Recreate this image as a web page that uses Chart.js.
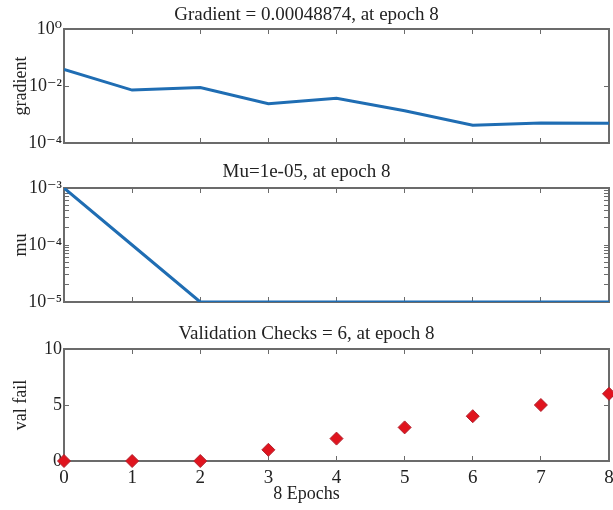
<!DOCTYPE html>
<html>
<head>
<meta charset="utf-8">
<title>Training state</title>
<script src="https://cdn.jsdelivr.net/npm/chart.js@4.4.1/dist/chart.umd.min.js"></script>
<style>
  html, body { margin: 0; padding: 0; background: #ffffff; }
  #wrap { position: relative; width: 613px; height: 510px; overflow: hidden; }
  #wrap canvas { position: absolute; left: 0; }
</style>
</head>
<body>
<div id="wrap">
  <canvas id="gradChart" width="613" height="160" style="top:0px"></canvas>
  <canvas id="muChart" width="613" height="162" style="top:160px"></canvas>
  <canvas id="valChart" width="613" height="188" style="top:322px"></canvas>
</div>
<script>
// epochs on the x axis
const epochs = [0, 1, 2, 3, 4, 5, 6, 7, 8];

// series
const gradientValues = [0.038, 0.0072, 0.0088, 0.0024, 0.0037, 0.00136, 0.00042, 0.0005, 0.00048874];
const muValues = [1e-3, 1e-4, 1e-5, 1e-5, 1e-5, 1e-5, 1e-5, 1e-5, 1e-5];
const valFailValues = [0, 0, 0, 1, 2, 3, 4, 5, 6];

// tick labels / tick positions
const gradTicks = [1e-4, 1e-2, 1];
const muTicks = [1e-5, 1e-4, 1e-3];
const valTicks = [0, 5, 10];

const titles = [
    'Gradient = 0.00048874, at epoch 8',
    'Mu=1e-05, at epoch 8',
    'Validation Checks = 6, at epoch 8'
];
const xTitle = '8 Epochs';

const SERIF = '"Liberation Serif", "DejaVu Serif", "Times New Roman", serif';
const TEXT = '#222222';
const AXIS_GRAY = '#6b6b6b';
const LINE_BLUE = '#1f6db3';
const PLOT_LEFT = 64;
const PLOT_RIGHT_PAD = 4;

const SUP = { '0': '\u2070', '1': '\u00b9', '2': '\u00b2', '3': '\u00b3', '4': '\u2074',
              '5': '\u2075', '6': '\u2076', '7': '\u2077', '8': '\u2078', '9': '\u2079', '-': '\u207b' };

function powLabel(v) {
    const e = String(Math.round(Math.log10(v)));
    return '10' + e.split('').map(c => SUP[c]).join('');
}

// minor tick positions of a log axis (1..9 x 10^k)
function logMinorTicks(lo, hi) {
    const out = [];
    for (let k = Math.round(Math.log10(lo)); k < Math.round(Math.log10(hi)); k++) {
        for (let m = 1; m < 10; m++) out.push({ value: m * Math.pow(10, k) });
    }
    out.push({ value: hi });
    return out;
}

function noPad(s) {
    s.paddingLeft = 0; s.paddingRight = 0; s.paddingTop = 0; s.paddingBottom = 0;
}

function xScales(showLabels, bottomHeight) {
    const base = {
        type: 'linear',
        min: 0,
        max: 8,
        grid: { drawOnChartArea: false, drawTicks: true, tickLength: -5, color: AXIS_GRAY, lineWidth: 1 },
        border: { display: true, color: AXIS_GRAY, width: 2 }
    };
    return {
        x: Object.assign({}, base, {
            position: 'bottom',
            ticks: {
                display: showLabels, stepSize: 1, autoSkip: false, maxRotation: 0, padding: 11,
                color: TEXT, font: { family: SERIF, size: 19 }
            },
            afterFit: s => { s.height = bottomHeight; noPad(s); }
        }),
        x2: Object.assign({}, base, {
            position: 'top',
            ticks: { display: false, stepSize: 1, autoSkip: false },
            afterFit: s => { s.height = 0; noPad(s); }
        })
    };
}

function yScales(kind, min, max, labelTicks, markTicks, axisTitle) {
    const fmt = kind === 'logarithmic' ? powLabel : (v => String(v));
    const common = {
        type: kind,
        min: min,
        max: max,
        grid: { drawOnChartArea: false, drawTicks: true, tickLength: -5, color: AXIS_GRAY, lineWidth: 1 },
        border: { display: true, color: AXIS_GRAY, width: 2 }
    };
    return {
        y: Object.assign({}, common, {
            position: 'left',
            ticks: {
                autoSkip: false, padding: 7, color: TEXT,
                font: { family: SERIF, size: 18 },
                callback: v => fmt(v)
            },
            afterBuildTicks: s => { s.ticks = markTicks.map(t => ({ value: t.value })); },
            afterTickToLabelConversion: s => {
                s.ticks.forEach(t => { if (!labelTicks.some(v => Math.abs(v - t.value) < 1e-12)) t.label = ''; });
            },
            title: {
                display: true, text: axisTitle, color: TEXT,
                font: { family: SERIF, size: 18 }, padding: { top: 10, bottom: 0 }
            },
            afterFit: s => { s.width = PLOT_LEFT; noPad(s); }
        }),
        y2: Object.assign({}, common, {
            position: 'right',
            ticks: { display: false, autoSkip: false },
            afterBuildTicks: s => { s.ticks = markTicks.map(t => ({ value: t.value })); },
            afterFit: s => { s.width = PLOT_RIGHT_PAD; noPad(s); }
        })
    };
}

function baseOptions(titleText, titlePad, scales, bottomText) {
    return {
        responsive: false,
        animation: false,
        events: [],
        layout: { padding: 0, autoPadding: false },
        plugins: {
            legend: { display: false },
            tooltip: { enabled: false },
            title: {
                display: true, text: titleText, color: TEXT,
                font: { family: SERIF, size: 19, weight: 'normal' },
                padding: titlePad
            },
            // x-axis caption, centred on the whole figure like the original
            subtitle: {
                display: !!bottomText, text: bottomText || '', position: 'bottom', color: TEXT,
                font: { family: SERIF, size: 18, weight: 'normal' },
                padding: { top: -17.5, bottom: 4.9 }
            }
        },
        scales: scales
    };
}

function toXY(values) {
    return values.map((v, i) => ({ x: epochs[i], y: v }));
}

// ---- gradient panel
new Chart(document.getElementById('gradChart'), {
    type: 'line',
    data: {
        datasets: [{
            data: toXY(gradientValues),
            borderColor: LINE_BLUE, borderWidth: 3, pointRadius: 0, tension: 0,
            xAxisID: 'x', yAxisID: 'y'
        }]
    },
    options: baseOptions(titles[0], { top: 3.6, bottom: 2.6 },
        Object.assign(xScales(false, 17),
            yScales('logarithmic', 1e-4, 1, gradTicks, gradTicks.map(v => ({ value: v })), 'gradient')))
});

// ---- mu panel
new Chart(document.getElementById('muChart'), {
    type: 'line',
    data: {
        datasets: [{
            data: toXY(muValues),
            borderColor: LINE_BLUE, borderWidth: 3, pointRadius: 0, tension: 0,
            xAxisID: 'x', yAxisID: 'y'
        }]
    },
    options: baseOptions(titles[1], { top: 0.6, bottom: 4.6 },
        Object.assign(xScales(false, 20),
            yScales('logarithmic', 1e-5, 1e-3, muTicks, logMinorTicks(1e-5, 1e-3), 'mu')))
});

// ---- validation checks panel
new Chart(document.getElementById('valChart'), {
    type: 'scatter',
    data: {
        datasets: [{
            data: toXY(valFailValues),
            showLine: false,
            pointStyle: 'rectRot', pointRadius: 6.5,
            backgroundColor: '#e0141e', borderColor: '#b0222e', borderWidth: 1,
            clip: false,
            xAxisID: 'x', yAxisID: 'y'
        }]
    },
    options: baseOptions(titles[2], { top: 0.6, bottom: 3.6 },
        Object.assign(xScales(true, 40),
            yScales('linear', 0, 10, valTicks, valTicks.map(v => ({ value: v })), 'val fail')),
        xTitle)
});
</script>
</body>
</html>
